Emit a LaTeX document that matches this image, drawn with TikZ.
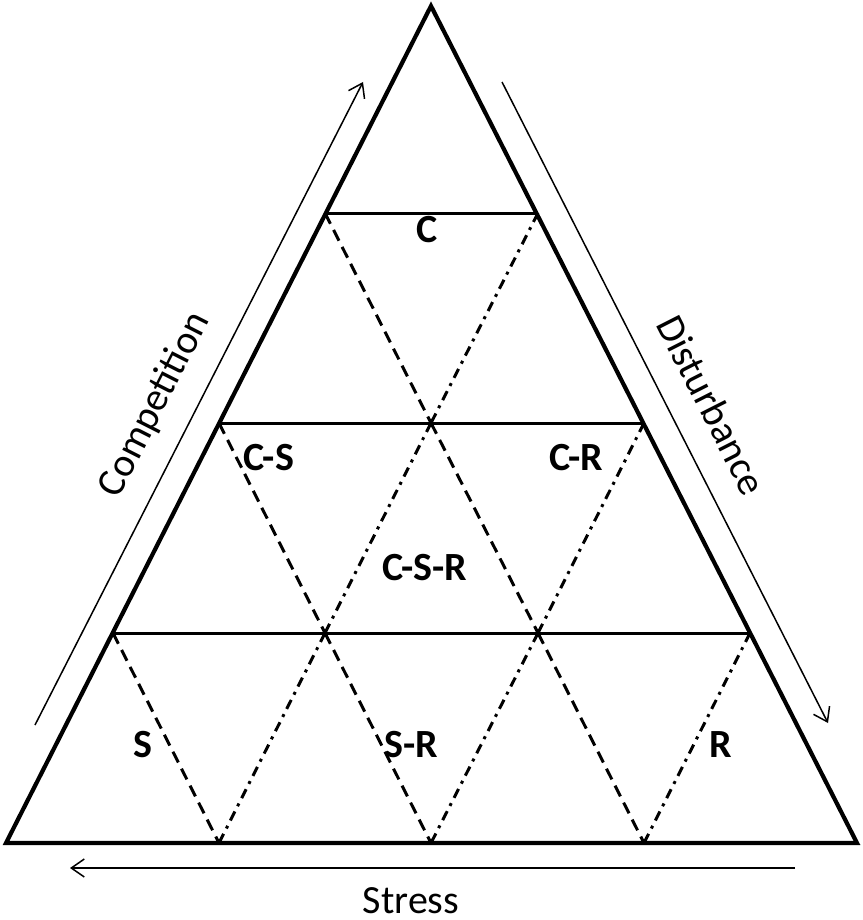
\documentclass[tikz,border=0pt]{standalone}
\usepackage{fontspec}
\setmainfont{Carlito}
\usetikzlibrary{arrows.meta}
\begin{document}
\begin{tikzpicture}[x=1pt,y=-1pt,
  outer/.style={line width=4.2pt,line join=miter},
  level/.style={line width=3pt},
  dashln/.style={line width=3pt,dash pattern=on 12pt off 7pt},
  dotln/.style={line width=3pt,dash pattern=on 10pt off 6pt on 3pt off 6pt},
  axis/.style={line width=1.5pt,-{Straight Barb[length=13pt,width=18pt,line width=1.5pt]}},
  lab/.style={font=\fontsize{40}{46}\selectfont\bfseries,inner sep=0pt},
  axlab/.style={font=\fontsize{40}{46}\selectfont,inner sep=0pt}]
\useasboundingbox (0,0) rectangle (862,920);
% corners
\coordinate (A) at (431,6);
\coordinate (BL) at (6,843);
\coordinate (BR) at (857,843);
% level points
\coordinate (L1) at (325,213); \coordinate (R1) at (538,213);
\coordinate (L2) at (219,423); \coordinate (M2) at (431,423); \coordinate (R2) at (644,423);
\coordinate (L3) at (113,633); \coordinate (M3a) at (325,633); \coordinate (M3b) at (538,633); \coordinate (R3) at (750,633);
\coordinate (B1) at (219,843); \coordinate (B2) at (431,843); \coordinate (B3) at (644,843);
% horizontal levels
\draw[level] (L1) -- (R1);
\draw[level] (L2) -- (R2);
\draw[level] (L3) -- (R3);
% dashed (down-right)
\draw[dashln] (L1) -- (M2);
\draw[dashln] (L2) -- (M3a);
\draw[dashln] (M2) -- (M3b);
\draw[dashln] (L3) -- (B1);
\draw[dashln] (M3a) -- (B2);
\draw[dashln] (M3b) -- (B3);
% dash-dot (down-left)
\draw[dotln] (R1) -- (M2);
\draw[dotln] (M2) -- (M3a);
\draw[dotln] (R2) -- (M3b);
\draw[dotln] (M3a) -- (B1);
\draw[dotln] (M3b) -- (B2);
\draw[dotln] (R3) -- (B3);
% outer triangle
\draw[outer] (A) -- (BL) -- (BR) -- cycle;
% axis arrows
\coordinate (cs) at (35,725); \coordinate (ce) at (363,82);
\coordinate (ds) at (502,82); \coordinate (de) at (828,723);
\coordinate (ss) at (795,868); \coordinate (se) at (70,868);
\draw[axis] (cs) -- (ce);
\draw[axis] (ds) -- (de);
\draw[axis] (ss) -- (se);
% axis labels
\node[axlab,rotate=63.1] (comp) at (155,405) {Competition};
\node[axlab,rotate=-63.1] (dist) at (712,405) {Disturbance};
\node[axlab] (stress) at (411,901) {Stress};
% region labels
\node[lab] (c) at (427,230) {C};
\node[lab] (cs2) at (269,458) {C-S};
\node[lab] (cr) at (576,458) {C-R};
\node[lab] (csr) at (425,568) {C-S-R};
\node[lab] (s) at (143,745) {S};
\node[lab] (sr) at (411,745) {S-R};
\node[lab] (r) at (721,745) {R};
\end{tikzpicture}
\end{document}
